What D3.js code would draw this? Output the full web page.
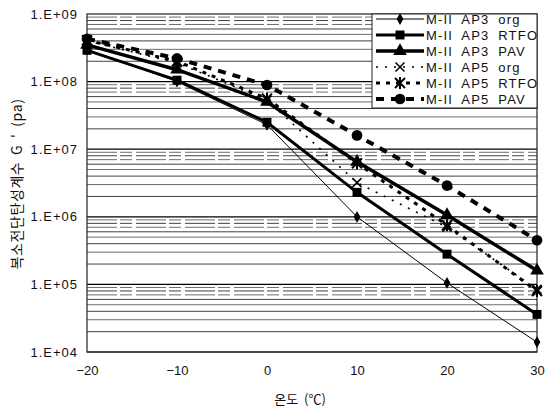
<!DOCTYPE html>
<html><head><meta charset="utf-8">
<script src="https://cdn.jsdelivr.net/npm/d3@7"></script>
<style>body{margin:0;background:#fff}svg{display:block}text{font-family:"Liberation Sans",Arial,sans-serif;fill:#111}</style>
</head><body><svg id="c" width="550" height="413"></svg>
<script>
const temps = [-20, -10, 0, 10, 20, 30];
const ap3Org  = [3.0e8, 1.0e8, 2.3e7, 1.0e6, 1.05e5, 1.4e4];
const ap3Rtfo = [2.9e8, 1.05e8, 2.5e7, 2.3e6, 2.8e5, 3.6e4];
const ap3Pav  = [3.5e8, 1.5e8, 5.0e7, 6.5e6, 1.06e6, 1.6e5];
const ap5Org  = [4.0e8, 1.9e8, 5.3e7, 3.2e6, 7.0e5, 8.5e4];
const ap5Rtfo = [4.1e8, 2.0e8, 5.6e7, 6.2e6, 7.5e5, 8.0e4];
const ap5Pav  = [4.3e8, 2.2e8, 8.9e7, 1.6e7, 2.9e6, 4.5e5];
const seriesNames = ["M-II AP3 org","M-II AP3 RTFO","M-II AP3 PAV","M-II AP5 org","M-II AP5 RTFO","M-II AP5 PAV"];
const yTickLabels = ["1.E+04","1.E+05","1.E+06","1.E+07","1.E+08","1.E+09"];
const xTicks = [-20,-10,0,10,20,30];

const styles = [
  {w:1, dash:null, sym:"diamond", size:40},
  {w:3, dash:null, sym:"square", size:80},
  {w:3.5, dash:null, sym:"triangle", size:80},
  {w:1.6, dash:"2,7", sym:"x", size:0},
  {w:3, dash:"4,6", sym:"star", size:0},
  {w:4, dash:"8,7", sym:"circle", size:90}
];
const allData = [ap3Org, ap3Rtfo, ap3Pav, ap5Org, ap5Rtfo, ap5Pav];

const svg = d3.select("#c");
const L=87, R=537, T=14, B=352;
const x = d3.scaleLinear().domain([-20,30]).range([L,R]);
const y = d3.scaleLog().domain([1e4,1e9]).range([B,T]);

// gridlines
const g = svg.append("g");
for (let e=4; e<9; e++) {
  for (let m=1; m<10; m++) {
    const v = m*Math.pow(10,e);
    g.append("line").attr("x1",L).attr("x2",R).attr("y1",y(v)).attr("y2",y(v))
      .attr("stroke", m===1 ? "#000" : (m%2? "#555":"#222"))
      .attr("stroke-width", m===1?1.2:1)
      .attr("stroke-dasharray", m>=7 ? "30,3,12,4" : null)
      .attr("opacity", m===1?1:0.85);
  }
}
// frame
svg.append("rect").attr("x",L).attr("y",T).attr("width",R-L).attr("height",B-T)
  .attr("fill","none").attr("stroke","#222").attr("stroke-width",1.2);

// axes
const yAxis = d3.axisLeft(y).tickValues(yTickLabels.map((d,i)=>Math.pow(10,4+i))).tickFormat((d,i)=>yTickLabels[i]).tickSize(0).tickPadding(9);
const ya = svg.append("g").attr("transform",`translate(${L},0)`).call(yAxis);
ya.select(".domain").remove();
ya.selectAll("text").style("font-size","13px").style("letter-spacing","1px").attr("fill","#111");
const xAxis = d3.axisBottom(x).tickValues(xTicks).tickFormat(d=>d<0?"\u2212"+Math.abs(d):d).tickSize(0).tickPadding(14);
const xa = svg.append("g").attr("transform",`translate(0,${B})`).call(xAxis);
xa.select(".domain").remove();
xa.selectAll("text").style("font-size","13px").attr("fill","#111");

svg.append("text").attr("x",300).attr("y",404).attr("text-anchor","middle").style("font-size","13px")
  .style("font-family","'Noto Sans CJK KR',sans-serif").style("word-spacing","3px").text("온도 (℃)");
svg.append("text").attr("transform","translate(22,184) rotate(-90)").attr("text-anchor","middle")
  .style("font-size","14px").style("letter-spacing","0.6px").style("word-spacing","3px")
  .style("font-family","'Noto Sans CJK KR',sans-serif").text("복소전단탄성계수 G ' (pa)");

// lines
const line = d3.line().x((d,i)=>x(temps[i])).y(d=>y(d));
function drawMarker(sel, st, px, py, scale) {
  const s = scale||1;
  if (st.sym==="x") {
    const r=4.5*s;
    sel.append("path").attr("d",`M${px-r},${py-r}L${px+r},${py+r}M${px-r},${py+r}L${px+r},${py-r}`).attr("stroke","#000").attr("stroke-width",1.5);
  } else if (st.sym==="star") {
    const r=5*s;
    sel.append("path").attr("d",`M${px-r},${py-r}L${px+r},${py+r}M${px-r},${py+r}L${px+r},${py-r}M${px},${py-r-1}L${px},${py+r+1}`).attr("stroke","#000").attr("stroke-width",2);
  } else {
    const type = {diamond:d3.symbolDiamond,square:d3.symbolSquare,triangle:d3.symbolTriangle,circle:d3.symbolCircle}[st.sym];
    sel.append("path").attr("transform",`translate(${px},${py})`).attr("d",d3.symbol().type(type).size(st.size*s*s)()).attr("fill","#000");
  }
}
allData.forEach((data,k)=>{
  const st=styles[k];
  svg.append("path").attr("d",line(data)).attr("fill","none").attr("stroke","#000")
    .attr("stroke-width",st.w).attr("stroke-dasharray",st.dash);
  data.forEach((v,i)=>drawMarker(svg,st,x(temps[i]),y(v)));
});

// legend
const lg = svg.append("g");
lg.append("rect").attr("x",372).attr("y",T).attr("width",R-372).attr("height",94).attr("fill","#fff").attr("stroke","#222").attr("stroke-width",1);
seriesNames.forEach((n,k)=>{
  const st=styles[k];
  const yy = 19+k*16;
  lg.append("line").attr("x1",376).attr("x2",424).attr("y1",yy).attr("y2",yy).attr("stroke","#000")
    .attr("stroke-width",st.w).attr("stroke-dasharray",st.dash);
  drawMarker(lg,st,400,yy);
  lg.append("text").attr("x",426).attr("y",yy+5).style("font-size","13px").style("letter-spacing","1.2px").style("word-spacing","4px").text(n);
});
</script></body></html>
